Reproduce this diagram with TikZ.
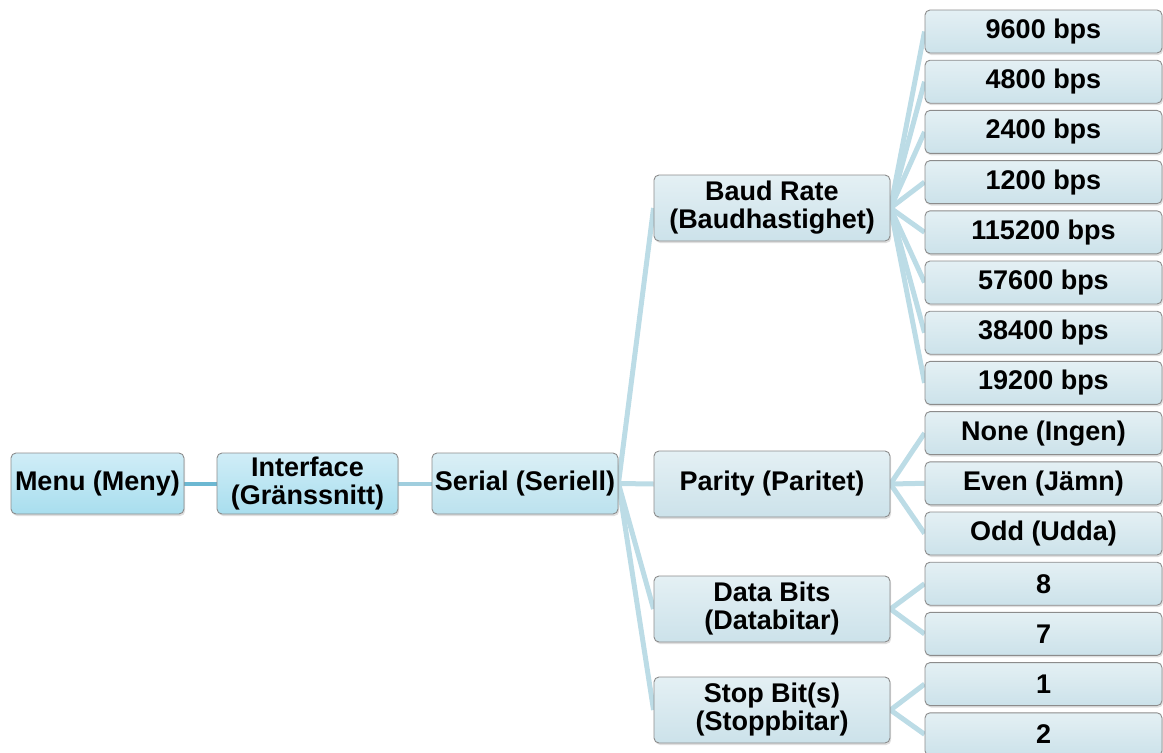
\documentclass[tikz,border=0pt]{standalone}
\usepackage{fontspec}
\setmainfont{Liberation Sans}
\usetikzlibrary{shadows,backgrounds}
\definecolor{mainTop}{RGB}{208,237,247}
\definecolor{mainBot}{RGB}{168,222,238}
\definecolor{serTop}{RGB}{218,239,246}
\definecolor{serBot}{RGB}{188,226,238}
\definecolor{leafTop}{RGB}{228,240,244}
\definecolor{leafBot}{RGB}{204,226,234}
\definecolor{boxLine}{RGB}{140,140,140}
\definecolor{connA}{RGB}{108,184,210}
\definecolor{connB}{RGB}{160,206,222}
\definecolor{connC}{RGB}{188,220,230}
\tikzset{
  box/.style={draw=boxLine, line width=0.9pt, rounded corners=5pt, align=center,
    font=\fontsize{27}{28}\selectfont\bfseries, inner sep=0pt,
    drop shadow={opacity=0.25, shadow xshift=1.2pt, shadow yshift=-2pt}},
  topbox/.style={box, top color=mainTop, bottom color=mainBot, minimum height=61pt},
  serbox/.style={box, top color=serTop, bottom color=serBot, minimum height=61pt},
  midbox/.style={box, top color=leafTop, bottom color=leafBot, minimum width=236pt, minimum height=66pt},
  leafbox/.style={box, top color=leafTop, bottom color=leafBot, minimum width=237pt, minimum height=43pt},
  conn/.style={connC, line width=5pt},
}
\begin{document}
\begin{tikzpicture}[x=1pt,y=-1pt]
\useasboundingbox (0,0) rectangle (1163,753);
\node[topbox, minimum width=173pt] (menu) at (97.5,483.5) {Menu (Meny)};
\node[topbox, minimum width=181pt] (iface) at (307.5,483.5) {Interface\\(Gränssnitt)};
\node[serbox, minimum width=186pt] (serial) at (525,483.5) {Serial (Seriell)};
\node[midbox] (baud) at (772,208) {Baud Rate\\(Baudhastighet)};
\node[midbox] (parity) at (772,484) {Parity (Paritet)};
\node[midbox] (data) at (772,609) {Data Bits\\(Databitar)};
\node[midbox] (stop) at (772,710) {Stop Bit(s)\\(Stoppbitar)};
\foreach \n/\t [count=\i from 0] in {b1/9600 bps, b2/4800 bps, b3/2400 bps, b4/1200 bps, b5/115200 bps, b6/57600 bps, b7/38400 bps, b8/19200 bps, p1/None (Ingen), p2/Even (Jämn), p3/Odd (Udda), d1/8, d2/7, s1/1, s2/2}
  \node[leafbox] (\n) at (1043.5,31.5+50.2*\i) {\t};
\begin{pgfonlayer}{background}
\draw[connA, line width=4pt] (menu.center) -- (iface.center);
\draw[connB, line width=4pt] (iface.center) -- (serial.center);
\foreach \c in {baud,parity,data,stop}
  \draw[conn] (serial.east) -- (\c.west);
\foreach \c in {b1,b2,b3,b4,b5,b6,b7,b8}
  \draw[conn] (baud.east) -- (\c.west);
\foreach \c in {p1,p2,p3}
  \draw[conn] (parity.east) -- (\c.west);
\foreach \c in {d1,d2}
  \draw[conn] (data.east) -- (\c.west);
\foreach \c in {s1,s2}
  \draw[conn] (stop.east) -- (\c.west);
\end{pgfonlayer}
\end{tikzpicture}
\end{document}
